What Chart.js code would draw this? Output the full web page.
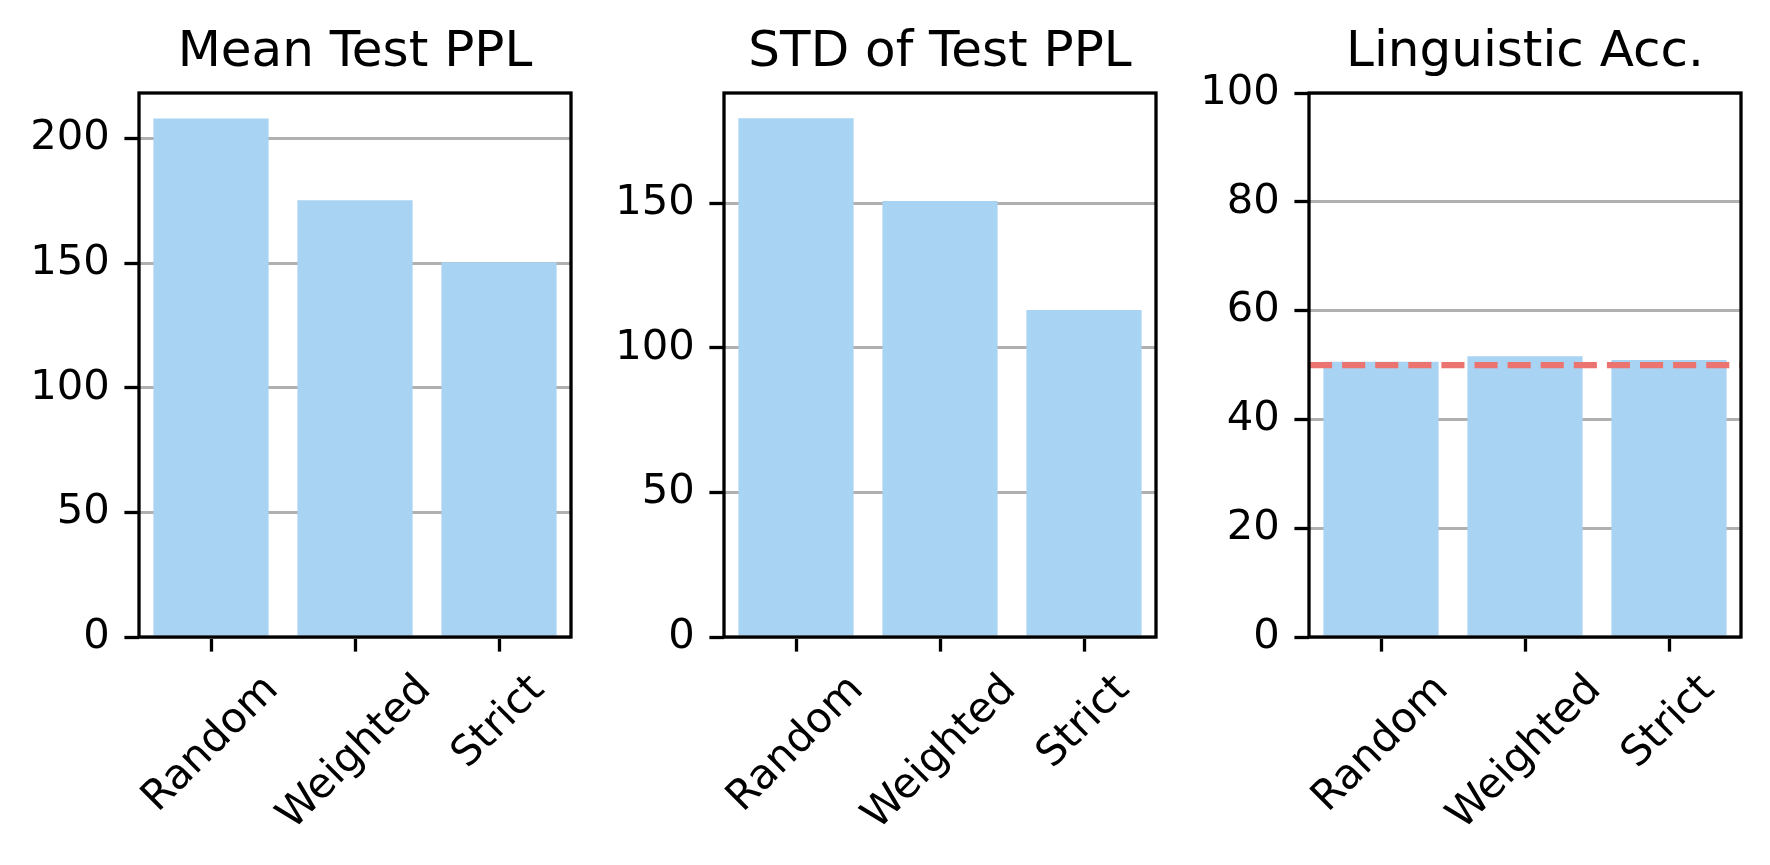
<!DOCTYPE html>
<html>
<head>
<meta charset="utf-8">
<script src="https://cdn.jsdelivr.net/npm/chart.js@4.4.1/dist/chart.umd.min.js"></script>
<style>
  html, body { margin: 0; padding: 0; background: #fff; }
  #wrap { position: relative; width: 1770px; height: 865px; overflow: hidden; }
  canvas { position: absolute; top: 0; }
</style>
</head>
<body>
<div id="wrap">
  <canvas id="mean" width="585" height="865" style="left:0px"></canvas>
  <canvas id="std" width="585" height="865" style="left:585px"></canvas>
  <canvas id="acc" width="585" height="865" style="left:1170px"></canvas>
</div>
<script>
// data
const strategies = ['Random', 'Weighted', 'Strict'];
const meanPPL = [208.1, 175.3, 150.4];
const stdPPL = [179.5, 150.8, 113.1];
const linguisticAcc = [50.6, 51.6, 50.9];
const chanceLevel = 50;

const panelTitles = ['Mean Test PPL', 'STD of Test PPL', 'Linguistic Acc.'];
const yMax = [218.3, 188.2, 100];
const yStep = [50, 50, 20];

const FONT = 'DejaVu Sans';
const TICK_SIZE = 41.7;
const TITLE_SIZE = 50;
const LW = 3.3;       // spine / tick width
const TICK_LEN = 14.6;
const TICK_PAD = 14.6;
const BAR_COLOR = '#A8D3F2';
const GRID_COLOR = '#B0B0B0';
const LINE_COLOR = '#EB7471';

Chart.defaults.font.family = FONT;
Chart.defaults.color = '#000';

// box around the plot area + matplotlib style rotated x labels
const axesFrame = {
  id: 'axesFrame',
  afterDraw(chart) {
    const ctx = chart.ctx;
    const a = chart.chartArea;
    ctx.save();
    ctx.strokeStyle = '#000';
    ctx.lineWidth = LW;
    ctx.lineJoin = 'miter';
    ctx.strokeRect(a.left, a.top, a.right - a.left, a.bottom - a.top);

    // labels rotated 45 deg, bbox centred on the tick
    const xs = chart.scales.x;
    ctx.font = TICK_SIZE + 'px "' + FONT + '"';
    ctx.fillStyle = '#000';
    ctx.textAlign = 'center';
    ctx.textBaseline = 'middle';
    const h = TICK_SIZE * 1.164;
    xs.ticks.forEach((t, i) => {
      const label = chart.data.labels[i];
      const w = ctx.measureText(label).width;
      const s = (w + h) / Math.SQRT2;
      const x = xs.getPixelForTick(i);
      const y = a.bottom + TICK_LEN + TICK_PAD + s / 2;
      ctx.save();
      ctx.translate(x, y);
      ctx.rotate(-Math.PI / 4);
      ctx.fillText(label, 0, 0);
      ctx.restore();
    });
    ctx.restore();
  }
};

// dashed 50% reference line
const chanceLine = {
  id: 'chanceLine',
  afterDatasetsDraw(chart) {
    const ctx = chart.ctx;
    const a = chart.chartArea;
    const y = chart.scales.y.getPixelForValue(chanceLevel);
    ctx.save();
    ctx.strokeStyle = LINE_COLOR;
    ctx.lineWidth = 6.25;
    ctx.lineCap = 'butt';
    ctx.setLineDash([23.1, 10]);
    ctx.beginPath();
    ctx.moveTo(a.left, y);
    ctx.lineTo(a.right, y);
    ctx.stroke();
    ctx.restore();
  }
};

function makePanel(id, values, idx, extraPlugins) {
  new Chart(document.getElementById(id), {
    type: 'bar',
    data: {
      labels: strategies,
      datasets: [{
        data: values,
        backgroundColor: BAR_COLOR,
        borderWidth: 0,
        categoryPercentage: 0.8,
        barPercentage: 1.0
      }]
    },
    options: {
      responsive: false,
      animation: false,
      devicePixelRatio: 1,
      layout: { padding: { top: 0, right: 14, bottom: 0, left: 0 } },
      plugins: {
        legend: { display: false },
        tooltip: { enabled: false },
        title: {
          display: true,
          text: panelTitles[idx],
          fullSize: false,
          color: '#000',
          font: { size: TITLE_SIZE, family: FONT, weight: 'normal' },
          padding: { top: 22.7, bottom: 10.3 }
        }
      },
      scales: {
        x: {
          offset: true,
          grid: {
            offset: false,
            drawOnChartArea: false,
            drawTicks: true,
            tickLength: TICK_LEN,
            tickColor: '#000',
            tickWidth: LW
          },
          border: { display: false },
          ticks: { display: false },
          afterFit(scale) { scale.height = 228; }
        },
        y: {
          min: 0,
          max: yMax[idx],
          grid: {
            color: GRID_COLOR,
            lineWidth: 3,
            drawTicks: true,
            tickLength: TICK_LEN,
            tickColor: '#000',
            tickWidth: LW
          },
          border: { display: false },
          ticks: {
            stepSize: yStep[idx],
            includeBounds: false,
            padding: TICK_PAD,
            color: '#000',
            font: { size: TICK_SIZE, family: FONT }
          },
          afterFit(scale) { scale.width = 139; }
        }
      }
    },
    plugins: [axesFrame].concat(extraPlugins || [])
  });
}

makePanel('mean', meanPPL, 0);
makePanel('std', stdPPL, 1);
makePanel('acc', linguisticAcc, 2, [chanceLine]);
</script>
</body>
</html>
